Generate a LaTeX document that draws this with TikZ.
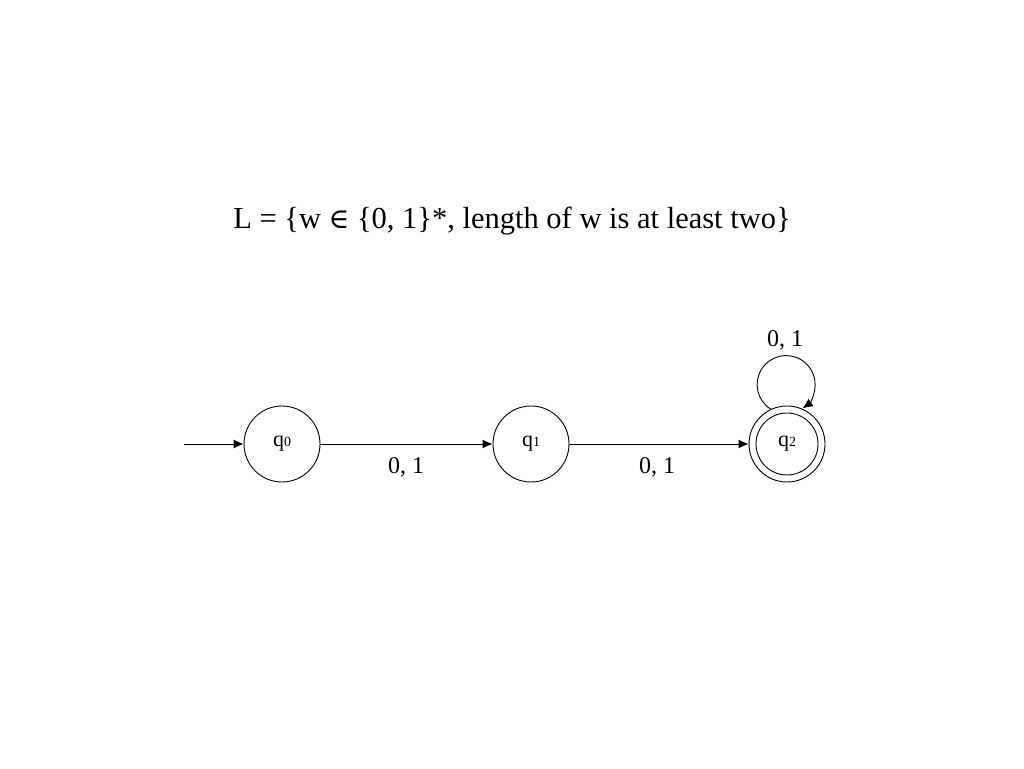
\documentclass[tikz,border=0pt]{standalone}
\usepackage{fontspec}
\setmainfont{Liberation Serif}
\newfontfamily\symfont{DejaVu Serif}
\usetikzlibrary{arrows.meta}
\newcommand{\stl}[1]{q{\fontsize{14}{14}\selectfont #1}}
\begin{document}
\begin{tikzpicture}[x=1pt,y=1pt,
  state/.style={circle,draw,line width=0.9pt,minimum size=76pt,inner sep=0pt,font=\fontsize{22}{24}\selectfont},
  trans/.style={line width=0.9pt,-{Latex[length=10pt,width=9pt]}},
  lbl/.style={font=\fontsize{24}{26}\selectfont}]
\useasboundingbox (0,0) rectangle (1024,768);
\node[font=\fontsize{30.5}{34}\selectfont] (title) at (512,547) {L = \{w {\symfont\fontsize{28}{30}\selectfont ∈} \{0, 1\}*, length of w is at least two\}};
\node[state] (q0) at (282,324) {\stl{0}};
\node[state] (q1) at (531,324) {\stl{1}};
\node[state] (q2) at (787,324) {};
\draw[line width=0.9pt] (q2.center) circle[radius=31pt];
\node[font=\fontsize{22}{24}\selectfont] (q2t) at (787,324) {\stl{2}};
\coordinate (start) at (184,324);
\draw[trans] (start) -- (q0);
\draw[trans] (q0) -- (q1);
\draw[trans] (q1) -- (q2);
\draw[trans] (q2.115) arc[start angle=238,end angle=-55,radius=29];
\node[lbl] (l01) at (406,301) {0, 1};
\node[lbl] (l12) at (657,301) {0, 1};
\node[lbl] (l22) at (785,428) {0, 1};
\end{tikzpicture}
\end{document}
